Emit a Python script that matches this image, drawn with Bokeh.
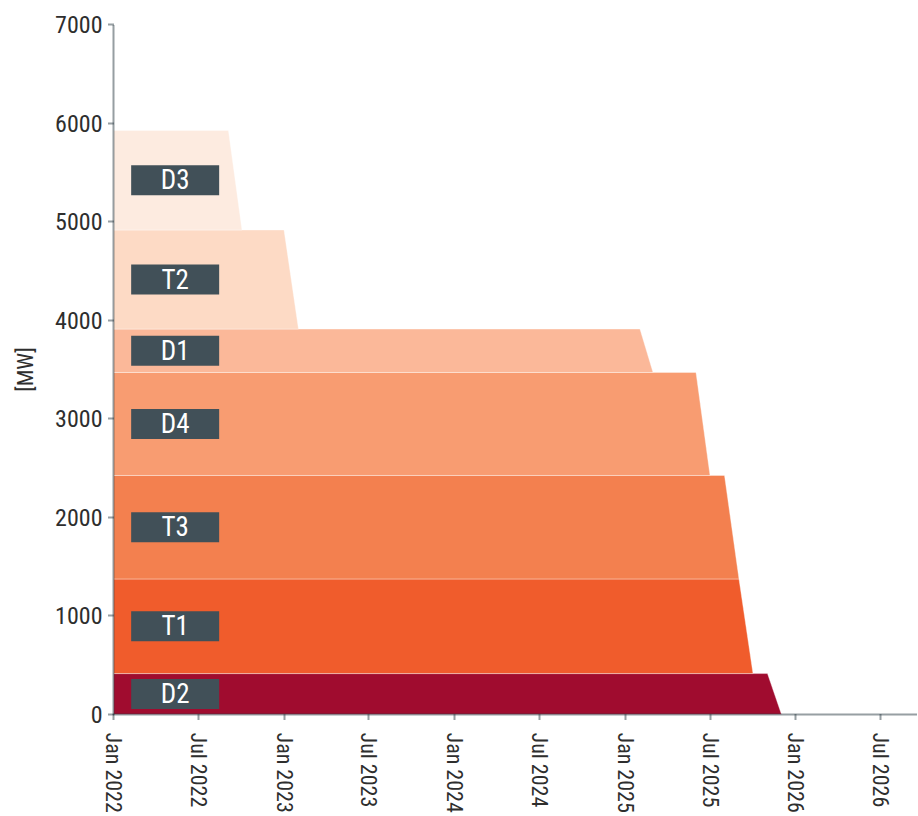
import pandas as pd
from bokeh.plotting import figure
from bokeh.models import ColumnDataSource, Range1d, FixedTicker
from bokeh.core.properties import value
from bokeh.embed import file_html
from bokeh.resources import INLINE

# ---- data ----
units = ["D2", "T1", "T3", "D4", "D1", "T2", "D3"]          # bottom -> top
capacity_mw = [415, 960, 1050, 1045, 440, 1005, 1010]
last_full = ["2025-11-01", "2025-09-01", "2025-08-01", "2025-06-01",
             "2025-02-01", "2023-01-01", "2022-09-04"]
closed = ["2025-12-01", "2025-10-01", "2025-09-01", "2025-07-01",
          "2025-03-01", "2023-02-01", "2022-10-03"]
colors = ["#a00c2f", "#f05c2c", "#f3804f", "#f89c71", "#fbb899", "#fddac5", "#fdebe0"]
series_start = "2022-01-01"

tick_dates = ["2022-01-01", "2022-07-01", "2023-01-01", "2023-07-01", "2024-01-01",
              "2024-07-01", "2025-01-01", "2025-07-01", "2026-01-01", "2026-07-01"]
tick_labels = ["Jan 2022", "Jul  2022", "Jan 2023", "Jul  2023", "Jan 2024",
               "Jul  2024", "Jan 2025", "Jul  2025", "Jan 2026", "Jul  2026"]
y_ticks = [0, 1000, 2000, 3000, 4000, 5000, 6000, 7000]


def ms(d):
    return pd.Timestamp(d).value / 1e6


# ---- polygons of the stacked bands ----
xs, ys, mids = [], [], []
base = 0
for cap, lf, cl in zip(capacity_mw, last_full, closed):
    top = base + cap
    xs.append([ms(series_start), ms(series_start), ms(lf), ms(cl)])
    ys.append([base, top, top, base])
    mids.append(base + cap / 2)
    base = top

src = ColumnDataSource(dict(xs=xs, ys=ys, color=colors, unit=units))
lab = ColumnDataSource(dict(x=[ms("2022-05-13")] * len(units), y=mids, unit=units))

FONT = "'Roboto Condensed', 'Liberation Sans Narrow', 'DejaVu Sans Condensed', Roboto, sans-serif"
AX = "#2f3e46"

p = figure(width=918, height=816, x_axis_type="datetime", output_backend="svg",
           toolbar_location=None, min_border_left=113, min_border_right=2,
           min_border_top=24, min_border_bottom=102)
p.x_range = Range1d(ms(series_start), ms("2026-09-16"))
p.y_range = Range1d(0, 7000)

p.patches("xs", "ys", source=src, fill_color="color", line_color="white",
          line_width=0.6, line_alpha=0.6)

p.rect("x", "y", width=88, height=30, width_units="screen", height_units="screen",
       source=lab, fill_color="#415058", line_color=None)
p.text("x", "y", text="unit", source=lab, text_color="white", text_align="center",
       text_baseline="middle", text_font=value(FONT), text_font_size="27px")

p.xgrid.visible = False
p.ygrid.visible = False
p.outline_line_color = None

xa = p.xaxis[0]
xa.ticker = FixedTicker(ticks=[ms(d) for d in tick_dates])
xa.major_label_overrides = {ms(d): l for d, l in zip(tick_dates, tick_labels)}
xa.major_label_orientation = "vertical"

ya = p.yaxis[0]
ya.ticker = FixedTicker(ticks=y_ticks)
ya.axis_label = "[MW]"

for ax in (xa, ya):
    ax.axis_line_color = AX
    ax.axis_line_dash = "1 1"
    ax.axis_line_width = 2
    ax.major_tick_line_color = AX
    ax.major_tick_line_dash = "1 1"
    ax.major_tick_line_width = 2
    ax.major_tick_out = 5
    ax.major_tick_in = 0
    ax.minor_tick_line_color = None
    ax.major_label_text_font = FONT
    ax.major_label_text_font_size = "24px"
    ax.major_label_text_color = "#2e2e2e"
    ax.major_label_standoff = 6

xa.major_label_standoff = 13
xa.major_label_text_font_size = "22px"

ya.axis_label_text_font = FONT
ya.axis_label_text_font_size = "22px"
ya.axis_label_text_font_style = "normal"
ya.axis_label_text_color = "#2e2e2e"
ya.axis_label_standoff = 14

open("out.html", "w").write(file_html(p, INLINE))
